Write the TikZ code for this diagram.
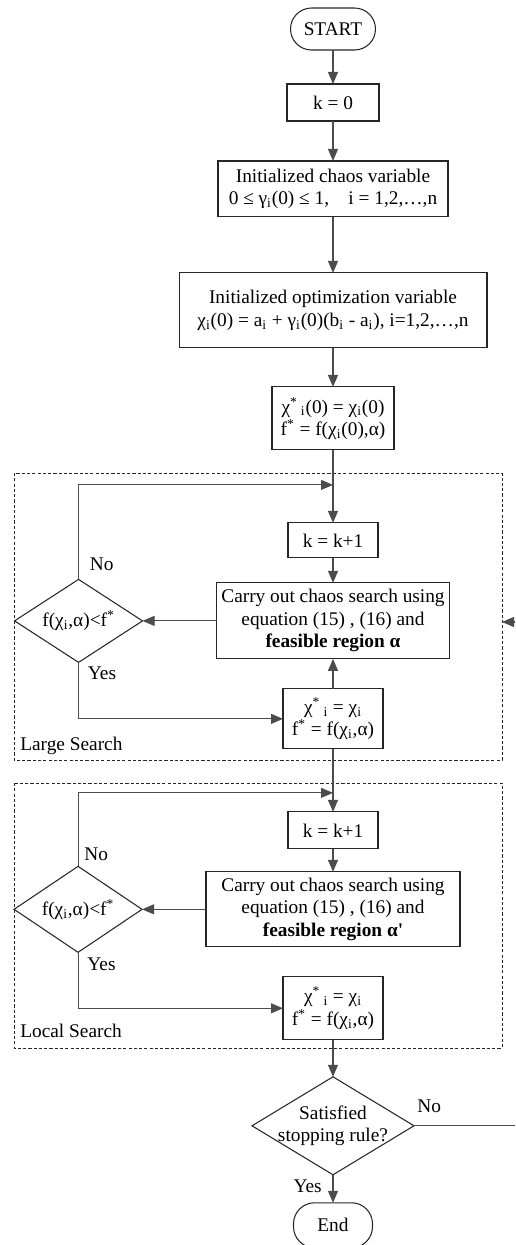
\documentclass[tikz,border=0pt]{standalone}
\usepackage{fontspec}
\setmainfont{Liberation Serif}
\usetikzlibrary{shapes.geometric,arrows.meta,positioning}

\begin{document}
\begin{tikzpicture}[x=0.02cm, y=-0.02cm, font=\fontsize{11}{12.8}\selectfont,
	block/.style={draw=black!85, line width=0.6pt, rectangle, align=center, inner sep=0pt, outer sep=0pt},
	term/.style={draw=black!85, line width=0.6pt, rectangle, rounded corners=0.42cm, inner sep=0pt, outer sep=0pt},
	decide/.style={draw=black!85, line width=0.6pt, diamond, aspect=1.6, align=center, inner sep=-0.25cm, outer sep=0pt},
	flow/.style={draw=black!70, line width=0.6pt, -{Triangle[length=0.24cm, width=0.2cm]}},
	line/.style={draw=black!70, line width=0.6pt},
	group/.style={draw=black!85, line width=0.5pt, dash pattern=on 1.8pt off 1.2pt},
	lbl/.style={inner sep=0pt}]

	\useasboundingbox (0,0) rectangle (515,1245);
	\clip (0,0) rectangle (515,1245); % the figure is cut off at the right and the bottom

	% main column
	\node[term, minimum width=1.7cm, minimum height=0.84cm] (start) at (333,29) {START};
	\node[block, below=0.68cm of start, minimum width=1.84cm, minimum height=0.74cm] (init) {k = 0};
	\node[block, below=0.8cm of init, minimum width=4.6cm, minimum height=1.12cm] (chaos)
		{Initialized chaos variable\\0 ≤ γ\textsubscript{i}(0) ≤ 1,\quad i = 1,2,…,n};
	\node[block, below=1.12cm of chaos, minimum width=6.16cm, minimum height=1.5cm] (optim)
		{Initialized optimization variable\\χ\textsubscript{i}(0) = a\textsubscript{i} + γ\textsubscript{i}(0)(b\textsubscript{i} - a\textsubscript{i}), i=1,2,…,n};
	\node[block, below=0.78cm of optim, minimum width=2.44cm, minimum height=1.26cm] (best0)
		{χ\textsuperscript{*}\,\textsubscript{i}(0) = χ\textsubscript{i}(0)\\f\textsuperscript{*} = f(χ\textsubscript{i}(0),α)};

	% large search
	\node[block, below=1.46cm of best0, minimum width=1.8cm, minimum height=0.7cm] (kk1) {k = k+1};
	\node[block, below=0.5cm of kk1, minimum width=4.66cm, minimum height=1.52cm] (search1)
		{Carry out chaos search using\\equation (15) , (16) and\\\textbf{feasible region α}};
	\node[block, below=0.6cm of search1, minimum width=2cm, minimum height=1.2cm] (best1)
		{χ\textsuperscript{*}\,\textsubscript{i} = χ\textsubscript{i}\\f\textsuperscript{*} = f(χ\textsubscript{i},α)};
	\node[decide, left=1.48cm of search1, minimum width=2.56cm, minimum height=1.66cm] (dec1)
		{f(χ\textsubscript{i},α)<f\textsuperscript{*}};

	% local search
	\node[block, below=1.26cm of best1, minimum width=1.8cm, minimum height=0.74cm] (kk2) {k = k+1};
	\node[block, below=0.46cm of kk2, minimum width=5.08cm, minimum height=1.5cm] (search2)
		{Carry out chaos search using\\equation (15) , (16) and\\\textbf{feasible region α\textquotesingle}};
	\node[block, below=0.6cm of search2, minimum width=2cm, minimum height=1.26cm] (best2)
		{χ\textsuperscript{*}\,\textsubscript{i} = χ\textsubscript{i}\\f\textsuperscript{*} = f(χ\textsubscript{i},α)};
	\node[decide, left=1.28cm of search2, minimum width=2.56cm, minimum height=1.72cm] (dec2)
		{f(χ\textsubscript{i},α)<f\textsuperscript{*}};

	\node[decide, below=0.74cm of best2, minimum width=3.24cm, minimum height=1.96cm] (stop)
		{Satisfied\\stopping rule?};
	\node[term, below=0.56cm of stop, minimum width=1.58cm, minimum height=0.9cm] (end) {End};

	% dashed groups
	\draw[group] (14,473) rectangle (502,760);
	\draw[group] (14,783) rectangle (502,1048);
	\node[lbl, anchor=base west] at (20,750) {Large Search};
	\node[lbl, anchor=base west] at (20,1037) {Local Search};
	\coordinate (largeE) at (502,622);

	\coordinate[above=0.76cm of kk1.north] (j1);
	\coordinate[above=0.38cm of kk2.north] (j2);

	% labels
	\node[lbl, above right=0.16cm and 0.22cm of dec1.north] {No};
	\node[lbl, below right=0.08cm and 0.18cm of dec1.south] {Yes};
	\node[lbl, above right=0.1cm and 0.12cm of dec2.north] {No};
	\node[lbl, below right=0.1cm and 0.18cm of dec2.south] {Yes};
	\node[lbl, above right=0.26cm and 0.06cm of stop.east] {No};
	\node[lbl, below left=0.1cm and 0.22cm of stop.south] {Yes};

	% connectors
	\draw[flow] (start) -- (init);
	\draw[flow] (init) -- (chaos);
	\draw[flow] (chaos) -- (optim);
	\draw[flow] (optim) -- (best0);
	\draw[flow] (best0) -- (kk1);
	\draw[flow] (dec1.north) |- (j1);
	\draw[flow] (kk1) -- (search1);
	\draw[flow] (search1) -- (dec1);
	\draw[flow] (dec1.south) |- (best1);
	\draw[flow] (best1) -- (search1);
	\draw[flow] (best1) -- (kk2);
	\draw[flow] (dec2.north) |- (j2);
	\draw[flow] (kk2) -- (search2);
	\draw[flow] (search2) -- (dec2);
	\draw[flow] (dec2.south) |- (best2);
	\draw[flow] (best2) -- (stop);
	\draw[flow] (stop) -- (end);
	\draw[flow] (stop.east) -- ++(3cm,0) |- (largeE);
\end{tikzpicture}
\end{document}
